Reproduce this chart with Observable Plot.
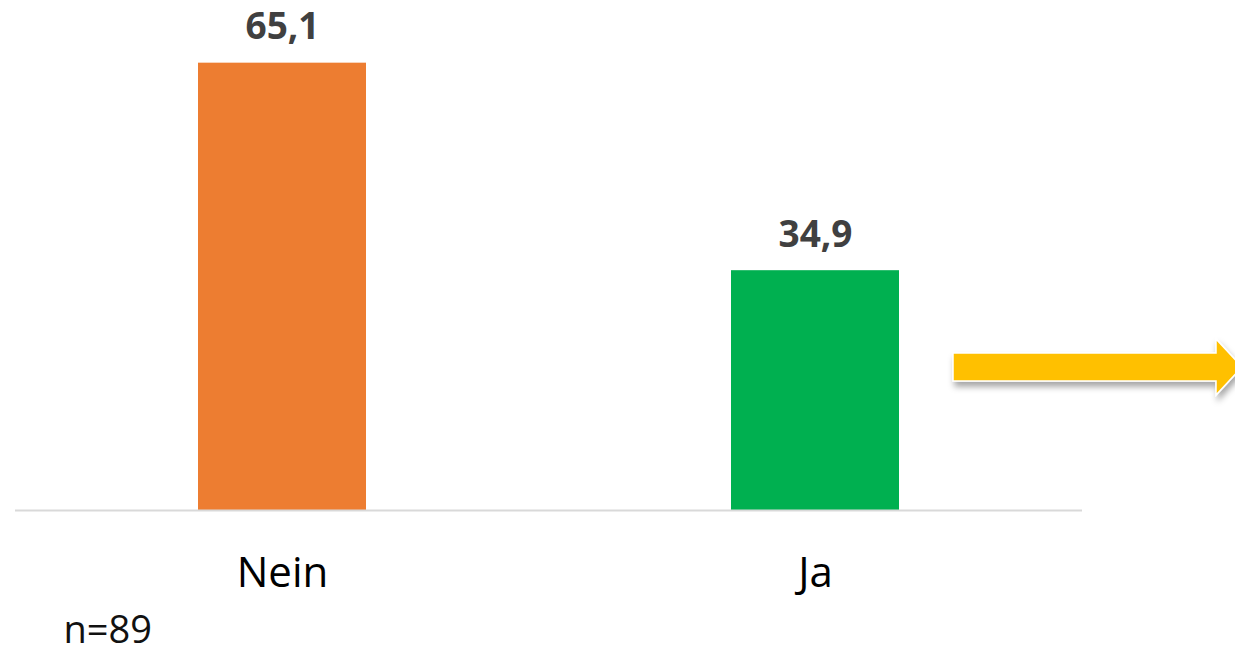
<!DOCTYPE html>
<html>
<head>
<meta charset="utf-8">
<script src="https://cdn.jsdelivr.net/npm/d3@7"></script>
<script src="https://cdn.jsdelivr.net/npm/@observablehq/plot@0.6"></script>
<style>
  html, body { margin: 0; padding: 0; background: #fff; overflow: hidden; }
  #chart svg { display: block; }
</style>
</head>
<body>
<div id="chart"></div>
<script>
// ---- data ----
const categories = ["Nein", "Ja"];
const values = [65.1, 34.9];
const barColors = ["#ED7D31", "#00B050"];
const caption = "n=89";

const data = categories.map((c, i) => ({category: c, value: values[i], color: barColors[i]}));
const fmt = v => v.toLocaleString("de-DE", {minimumFractionDigits: 1, maximumFractionDigits: 1});

// decorative arrow (drawn relative to the frame)
function arrowMark(index, scales, values, dims) {
  const {width, height, marginRight, marginBottom} = dims;
  const ns = "http://www.w3.org/2000/svg";
  const g = document.createElementNS(ns, "g");
  const defs = document.createElementNS(ns, "defs");
  defs.innerHTML = `<filter id="arrowShadow" x="-10%" y="-40%" width="130%" height="200%">
      <feDropShadow dx="2" dy="5" stdDeviation="3" flood-color="#000" flood-opacity="0.35"/></filter>`;
  g.appendChild(defs);
  const right = width - marginRight;       // end of frame
  const base = height - marginBottom;      // baseline
  const x0 = right - 129, xh = right + 134, xt = right + 160;
  const cy = base - 143;
  const bh = 14, hh = 28;
  const p = document.createElementNS(ns, "path");
  p.setAttribute("d", `M${x0},${cy - bh}H${xh}V${cy - hh}L${xt},${cy}L${xh},${cy + hh}V${cy + bh}H${x0}Z`);
  p.setAttribute("fill", "#FFC000");
  p.setAttribute("stroke", "#fff");
  p.setAttribute("stroke-width", "1.5");
  p.setAttribute("filter", "url(#arrowShadow)");
  g.appendChild(p);
  return g;
}

const chart = Plot.plot({
  width: 1235,
  height: 653,
  marginLeft: 15,
  marginRight: 153,
  marginTop: 29,
  marginBottom: 143,
  style: {fontFamily: "'Open Sans', sans-serif", background: "#fff", color: "#000"},
  x: {domain: categories, paddingInner: 0.685, paddingOuter: 0.3425, label: null},
  y: {domain: [0, 70], axis: null},
  marks: [
    Plot.barY(data, {x: "category", y: "value", fill: "color"}),
    Plot.ruleY([0], {stroke: "#D9D9D9", strokeWidth: 2}),
    Plot.text(data, {x: "category", y: "value", text: d => fmt(d.value), dy: -24, lineAnchor: "bottom",
      fontSize: 37, fontWeight: "bold", fill: "#404040"}),
    Plot.axisX({tickSize: 0, tickPadding: 47, fontSize: 42, label: null, fill: "#000"}),
    Plot.text([caption], {frameAnchor: "bottom-left", text: d => d, dx: 48, dy: 132, lineAnchor: "bottom",
      textAnchor: "start", fontSize: 38, fill: "#111"}),
    arrowMark
  ]
});
document.getElementById("chart").appendChild(chart);
</script>
</body>
</html>
